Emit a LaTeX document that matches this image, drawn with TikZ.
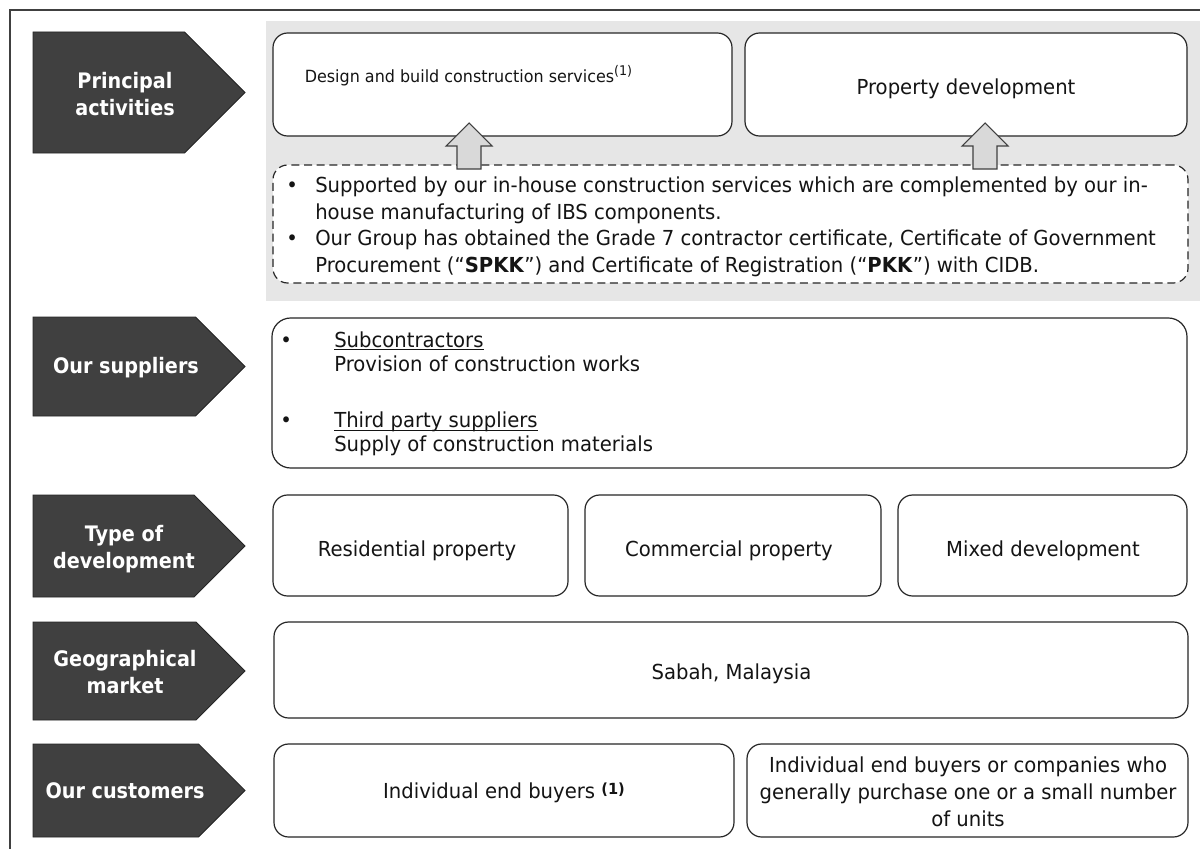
\documentclass[tikz,border=0pt]{standalone}
\usepackage{fontspec}
\setmainfont{DejaVu Sans}[FakeStretch=0.95]
\newfontfamily\lblfont{DejaVu Sans}[FakeStretch=0.9]
\usetikzlibrary{fit}
\definecolor{dark}{HTML}{404040}
\definecolor{band}{HTML}{E6E6E6}
\definecolor{arrowfill}{HTML}{D9D9D9}
\definecolor{edge}{HTML}{262626}
\definecolor{ink}{HTML}{141414}
\newcommand{\pentagon}[2]{%
  \draw[pent] (33,#1) -- ({245-(#2-#1)/2},#1) -- (245,{(#1+#2)/2}) -- ({245-(#2-#1)/2},#2) -- (33,#2) -- cycle;}
\begin{document}
\begin{tikzpicture}[x=0.75pt,y=-0.75pt,
  lbl/.style={font=\lblfont\fontsize{16}{20}\selectfont\bfseries, text=white, align=center, inner sep=0pt},
  box/.style={draw=edge, line width=0.9pt, rounded corners=11pt, fill=white, inner sep=0pt},
  dbox/.style={box, dash pattern=on 6pt off 3.5pt},
  txt/.style={font=\fontsize{15.5}{20.25}\selectfont, text=ink, align=center, inner sep=0pt},
  ltxt/.style={font=\fontsize{15.5}{20.25}\selectfont, text=ink, inner sep=0pt, anchor=base west},
  pent/.style={fill=dark, draw=edge, line width=0.6pt},
  blockarrow/.style={fill=arrowfill, draw=dark, line width=0.8pt},
  frame/.style={draw=dark, line width=1.1pt}]
\useasboundingbox (0,0) rectangle (1200,849);
\fill[white] (0,0) rectangle (1200,849);
\draw[frame] (10,849) -- (10,10) -- (1200,10);

% grey band
\fill[band] (266,21) rectangle (1200,301);

% pentagon labels
\pentagon{32}{153}
\pentagon{317}{416}
\pentagon{495}{597}
\pentagon{622}{720}
\pentagon{744}{837}
\node[lbl] (L1) at (125,94) {Principal\\activities};
\node[lbl] (L2) at (126,368) {Our suppliers};
\node[lbl] (L3) at (124,549) {Type of\\development};
\node[lbl] (L4) at (125,672) {Geographical\\market};
\node[lbl] (L5) at (125,791) {Our customers};

% principal activities
\node[box, fit={(273,33) (732,136)}] (design) {};
\node[box, fit={(745,33) (1187,136)}] (prop) {};
\node[txt, anchor=base, font=\fontsize{12.6}{15}\selectfont] (designT) at (468.5,83) {Design and build construction services\raisebox{5.5pt}{\fontsize{10}{10}\selectfont(1)}};
\node[txt, anchor=base] (propT) at (966,94) {Property development};

\node[dbox, fit={(273,165) (1188,283)}] (support) {};
\node[ltxt] (b1) at (286,192) {•};
\node[ltxt] (s1) at (315,192) {Supported by our in-house construction services which are complemented by our in-};
\node[ltxt] (s2) at (315,219) {house manufacturing of IBS components.};
\node[ltxt] (b2) at (286,245) {•};
\node[ltxt] (s3) at (315,245) {Our Group has obtained the Grade 7 contractor certificate, Certificate of Government};
\node[ltxt] (s4) at (315,272) {Procurement (“\textbf{SPKK}”) and Certificate of Registration (“\textbf{PKK}”) with CIDB.};

% block arrows
\draw[blockarrow] (457,169) -- (457,146) -- (446,146) -- (469,123) -- (492,146) -- (481,146) -- (481,169) -- cycle;
\draw[blockarrow] (973,169) -- (973,146) -- (962,146) -- (985,123) -- (1008,146) -- (997,146) -- (997,169) -- cycle;

% suppliers
\node[box, rounded corners=14pt, fit={(272,318) (1187,468)}] (supp) {};
\node[ltxt] (sb1) at (280,347) {•};
\node[ltxt] (sub) at (334,347) {Subcontractors};
\draw[ink, line width=0.7pt] ([yshift=-1.8pt]sub.base west) -- ([yshift=-1.8pt]sub.base east);
\node[ltxt] (sub2) at (334,371) {Provision of construction works};
\node[ltxt] (sb2) at (280,427) {•};
\node[ltxt] (tps) at (334,427) {Third party suppliers};
\draw[ink, line width=0.7pt] ([yshift=-2.8pt]tps.base west) -- ([yshift=-2.8pt]tps.base east);
\node[ltxt] (tps2) at (334,451) {Supply of construction materials};

% type of development
\node[box, fit={(273,495) (568,596)}] (res) {};
\node[box, fit={(585,495) (881,596)}] (com) {};
\node[box, fit={(898,495) (1187,596)}] (mix) {};
\node[txt, anchor=base] (resT) at (417,556) {Residential property};
\node[txt, anchor=base] (comT) at (729,556) {Commercial property};
\node[txt, anchor=base] (mixT) at (1043,556) {Mixed development};

% geographical market
\node[box, fit={(274,622) (1188,718)}] (geo) {};
\node[txt, anchor=base] (geoT) at (731.5,679) {Sabah, Malaysia};

% customers
\node[box, fit={(274,744) (734,837)}] (c1) {};
\node[box, fit={(747,744) (1188,837)}] (c2) {};
\node[txt, anchor=base] (c1T) at (504,798) {Individual end buyers \raisebox{3pt}{\fontsize{11.5}{11.5}\selectfont\bfseries(1)}};
\node[txt] (c2T) at (968,791.5) {Individual end buyers or companies who\\generally purchase one or a small number\\of units};
\end{tikzpicture}
\end{document}
